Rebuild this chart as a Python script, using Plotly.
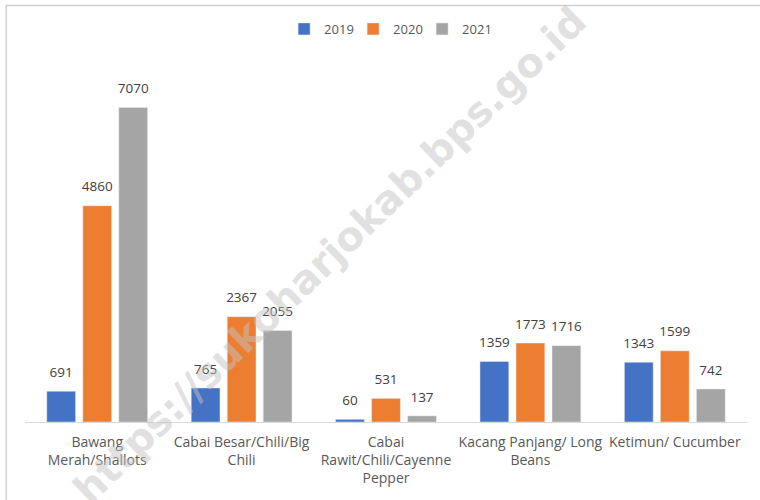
import plotly.graph_objects as go

categories = ["Bawang<br>Merah/Shallots", "Cabai Besar/Chili/Big<br>Chili",
              "Cabai<br>Rawit/Chili/Cayenne<br>Pepper", "Kacang Panjang/ Long<br>Beans",
              "Ketimun/ Cucumber"]
v2019 = [691, 765, 60, 1359, 1343]
v2020 = [4860, 2367, 531, 1773, 1599]
v2021 = [7070, 2055, 137, 1716, 742]
series_names = ["2019", "2020", "2021"]
colors = ["#4472C4", "#ED7D31", "#A5A5A5"]

fig = go.Figure()
for name, vals, col in zip(series_names, [v2019, v2020, v2021], colors):
    fig.add_trace(go.Bar(
        x=categories, y=vals, name=name, marker_color=col,
        offsetgroup=name, hoverinfo="skip",
    ))
for name, vals in zip(series_names, [v2019, v2020, v2021]):
    fig.add_trace(go.Scatter(
        x=categories, y=vals, mode="markers+text", text=vals,
        textposition="top center", offsetgroup=name, showlegend=False,
        marker=dict(size=16, opacity=0), cliponaxis=False,
        textfont=dict(size=13.5, color="#404040"), hoverinfo="skip",
    ))

fig.update_layout(
    width=760, height=500,
    margin=dict(l=25, r=13, t=65.6, b=78, autoexpand=False),
    paper_bgcolor="white", plot_bgcolor="white",
    font=dict(family="Open Sans", color="#595959"),
    barmode="group", bargap=0.252, bargroupgap=0.2,
    scattermode="group", scattergap=0.252,
    showlegend=True,
    legend=dict(orientation="h", x=0.51, xanchor="center", xref="container",
                y=0.942, yanchor="middle", yref="container",
                font=dict(size=13, color="#595959"),
                entrywidth=24, entrywidthmode="pixels",
                traceorder="normal"),
    xaxis=dict(showline=True, linecolor="#D9D9D9", linewidth=1, ticks="",
               tickfont=dict(size=14, color="#595959"), showgrid=False, tickangle=0,
               ticklabelstandoff=7, automargin=False),
    yaxis=dict(visible=False, range=[0, 8000], showgrid=False, automargin=False),
)

# chart border
fig.add_shape(type="rect", xref="paper", yref="paper",
              x0=-0.026, x1=1.1, y0=-0.5, y1=1.17,
              line=dict(color="#D0D0D0", width=1.5), fillcolor="rgba(0,0,0,0)", layer="below")

# watermark
fig.add_annotation(text="<b>https://sukoharjokab.bps.go.id</b>", xref="paper", yref="paper",
                   x=0.422, y=0.469, showarrow=False, textangle=-44,
                   font=dict(size=40, family="DejaVu Sans", color="rgba(195,195,195,0.5)"))

fig.write_html("out.html", config={"displayModeBar": False},
               post_script="document.body.style.margin='0';")
